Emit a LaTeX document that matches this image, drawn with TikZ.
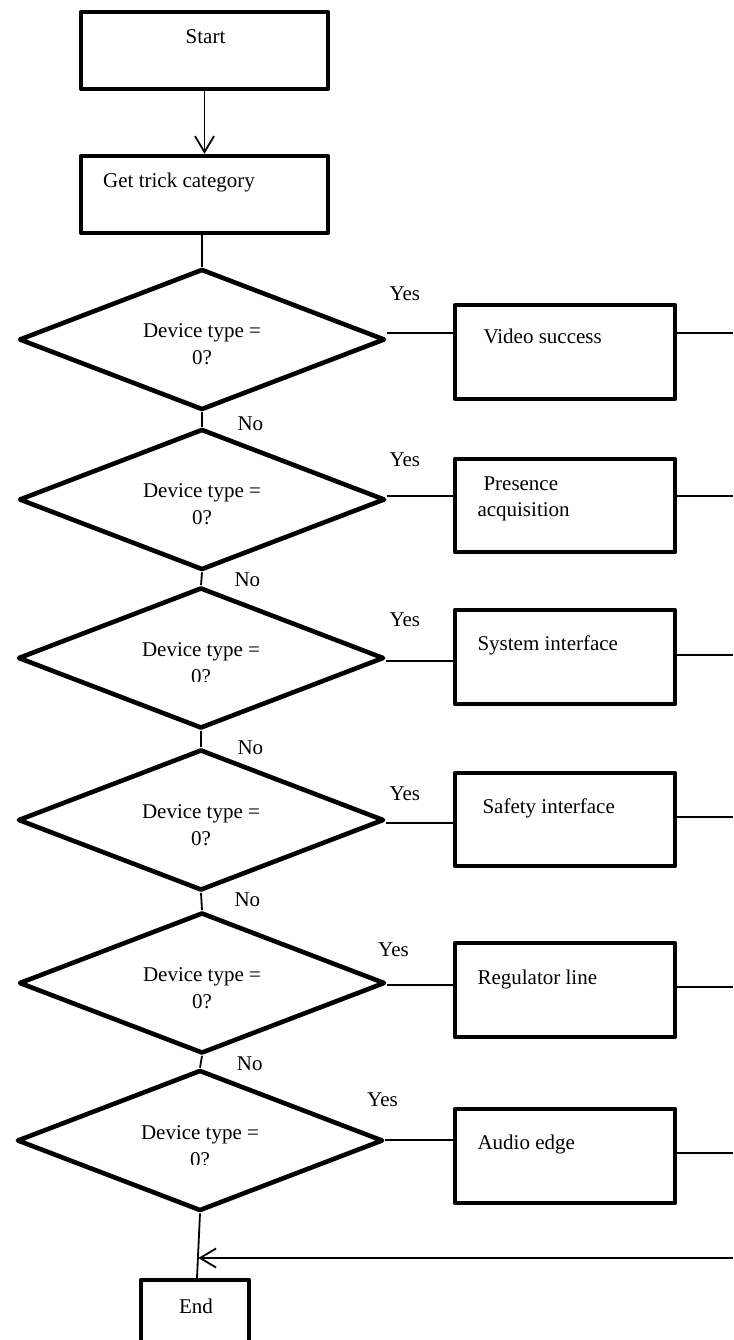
\documentclass[tikz,border=0pt]{standalone}
\usepackage{fontspec}
\setmainfont{Liberation Serif}
\usetikzlibrary{arrows.meta,shapes.geometric,calc}
\begin{document}
\begin{tikzpicture}[x=1pt,y=-1pt,
  every node/.style={font=\fontsize{21}{27}\selectfont},
  proc/.style={draw, rectangle, line width=4.2pt, line join=round, inner sep=0pt},
  dec/.style={draw, diamond, line width=4.6pt, line join=round, inner sep=0pt,
              minimum width=366pt, minimum height=141pt},
  link/.style={line width=1.8pt},
  arr/.style={-{Straight Barb[length=16pt,width=19pt]}},
  ctxt/.style={inner sep=0pt, anchor=base},
  ltxt/.style={inner sep=0pt, anchor=base west}]

\path[use as bounding box] (0,0) rectangle (733,1340);
\clip (0,0) rectangle (733,1340);
\fill[white] (0,0) rectangle (733,1340);

% ---- main column ----
\node[proc, minimum width=247pt, minimum height=77pt] (start) at (204.5,50.5) {};
\node[proc, minimum width=247pt, minimum height=77pt] (gt) at (204.5,194.5) {};
\node[dec] (d1) at (202,339.5) {};
\node[dec] (d2) at (202,499.5) {};
\node[dec] (d3) at (201,658) {};
\node[dec] (d4) at (201,820) {};
\node[dec] (d5) at (202,983) {};
\node[dec] (d6) at (200,1140.5) {};
\node[proc, minimum width=108pt, minimum height=77pt] (endb) at (195,1318.5) {};

% ---- action boxes ----
\node[proc, minimum width=220pt, minimum height=94pt] (b1) at (565,352) {};
\node[proc, minimum width=220pt, minimum height=93pt] (b2) at (565,505.5) {};
\node[proc, minimum width=220pt, minimum height=94pt] (b3) at (565,657) {};
\node[proc, minimum width=220pt, minimum height=93pt] (b4) at (565,819.5) {};
\node[proc, minimum width=220pt, minimum height=94pt] (b5) at (565,990) {};
\node[proc, minimum width=220pt, minimum height=94pt] (b6) at (565,1156) {};

% ---- texts ----
\node[ctxt] (tstart) at (205.5,44) {Start};
\node[ltxt] (tgt) at (103,188) {Get trick category};

\node[ctxt] (q1a) at (202,337) {Device type =};
\node[ctxt] (q1b) at (202,364) {0?};
\node[ctxt] (q2a) at (202,497) {Device type =};
\node[ctxt] (q2b) at (202,524) {0?};
\node[ctxt] (q3a) at (201,656) {Device type =};
\begin{scope}
  \clip (150,600) rectangle (260,681.5);
  \node[ctxt] (q3b) at (201,683) {0?};
\end{scope}
\node[ctxt] (q4a) at (201,818) {Device type =};
\node[ctxt] (q4b) at (201,845) {0?};
\node[ctxt] (q5a) at (202,981) {Device type =};
\node[ctxt] (q5b) at (202,1008) {0?};
\node[ctxt] (q6a) at (200,1139) {Device type =};
\begin{scope}
  \clip (150,1100) rectangle (260,1164);
  \node[ctxt] (q6b) at (200,1166) {0?};
\end{scope}

\node[ltxt] (t1) at (483.3,343.5) {Video success};
\node[ltxt] (t2a) at (483.3,490) {Presence};
\node[ltxt] (t2b) at (477.3,516.7) {acquisition};
\node[ltxt] (t3) at (477.3,650) {System interface};
\node[ltxt] (t4) at (482.3,813.3) {Safety interface};
\node[ltxt] (t5) at (477.3,984) {Regulator line};
\node[ltxt] (t6) at (477.3,1149) {Audio edge};
\node[ctxt] (tend) at (196,1313.3) {End};

\node[ltxt] (yes1) at (389.3,300) {Yes};
\node[ltxt] (yes2) at (389.3,466.7) {Yes};
\node[ltxt] (yes3) at (389.3,626.7) {Yes};
\node[ltxt] (yes4) at (389.3,800) {Yes};
\node[ltxt] (yes5) at (378,956.7) {Yes};
\node[ltxt] (yes6) at (367,1106.7) {Yes};

\node[ltxt] (no1) at (237.3,430) {No};
\node[ltxt] (no2) at (234.3,586) {No};
\node[ltxt] (no3) at (237.3,754) {No};
\node[ltxt] (no4) at (234.3,906) {No};
\node[ltxt] (no5) at (236.7,1070.7) {No};

% ---- connectors down the main column ----
\draw[link, arr] (start.south) -- (gt.north);
\draw[link] (gt.south -| d1.north) -- (d1.north);
\draw[link] (d1.south) -- (d2.north);
\draw[link] (d2.south) -- (d3.north);
\draw[link] (d3.south) -- (d4.north);
\draw[link] (d4.south) -- (d5.north);
\draw[link] (d5.south) -- (d6.north);
\draw[link] (d6.south) -- ([xshift=2pt]endb.north);

% ---- yes branches ----
\coordinate (y1) at (420,333);
\coordinate (y2) at (420,496);
\coordinate (y3) at (420,661);
\coordinate (y4) at (420,823);
\coordinate (y5) at (420,985);
\coordinate (y6) at (420,1140);
\draw[link] (d1.east |- y1) -- (b1.west |- y1);
\draw[link] (d2.east |- y2) -- (b2.west |- y2);
\draw[link] (d3.east |- y3) -- (b3.west |- y3);
\draw[link] (d4.east |- y4) -- (b4.west |- y4);
\draw[link] (d5.east |- y5) -- (b5.west |- y5);
\draw[link] (d6.east |- y6) -- (b6.west |- y6);

% ---- outgoing lines to the right rail ----
\coordinate (r1) at (733,333);
\coordinate (r2) at (733,496);
\coordinate (r3) at (733,655);
\coordinate (r4) at (733,817);
\coordinate (r5) at (733,987);
\coordinate (r6) at (733,1153);
\draw[link] (b1.east |- r1) -- (r1);
\draw[link] (b2.east |- r2) -- (r2);
\draw[link] (b3.east |- r3) -- (r3);
\draw[link] (b4.east |- r4) -- (r4);
\draw[link] (b5.east |- r5) -- (r5);
\draw[link] (b6.east |- r6) -- (r6);

% ---- return to the end ----
\coordinate (retin) at (733,1258);
\coordinate (merge) at (198.3,1258);
\draw[link, arr] (retin) -- (merge);

\end{tikzpicture}
\end{document}
